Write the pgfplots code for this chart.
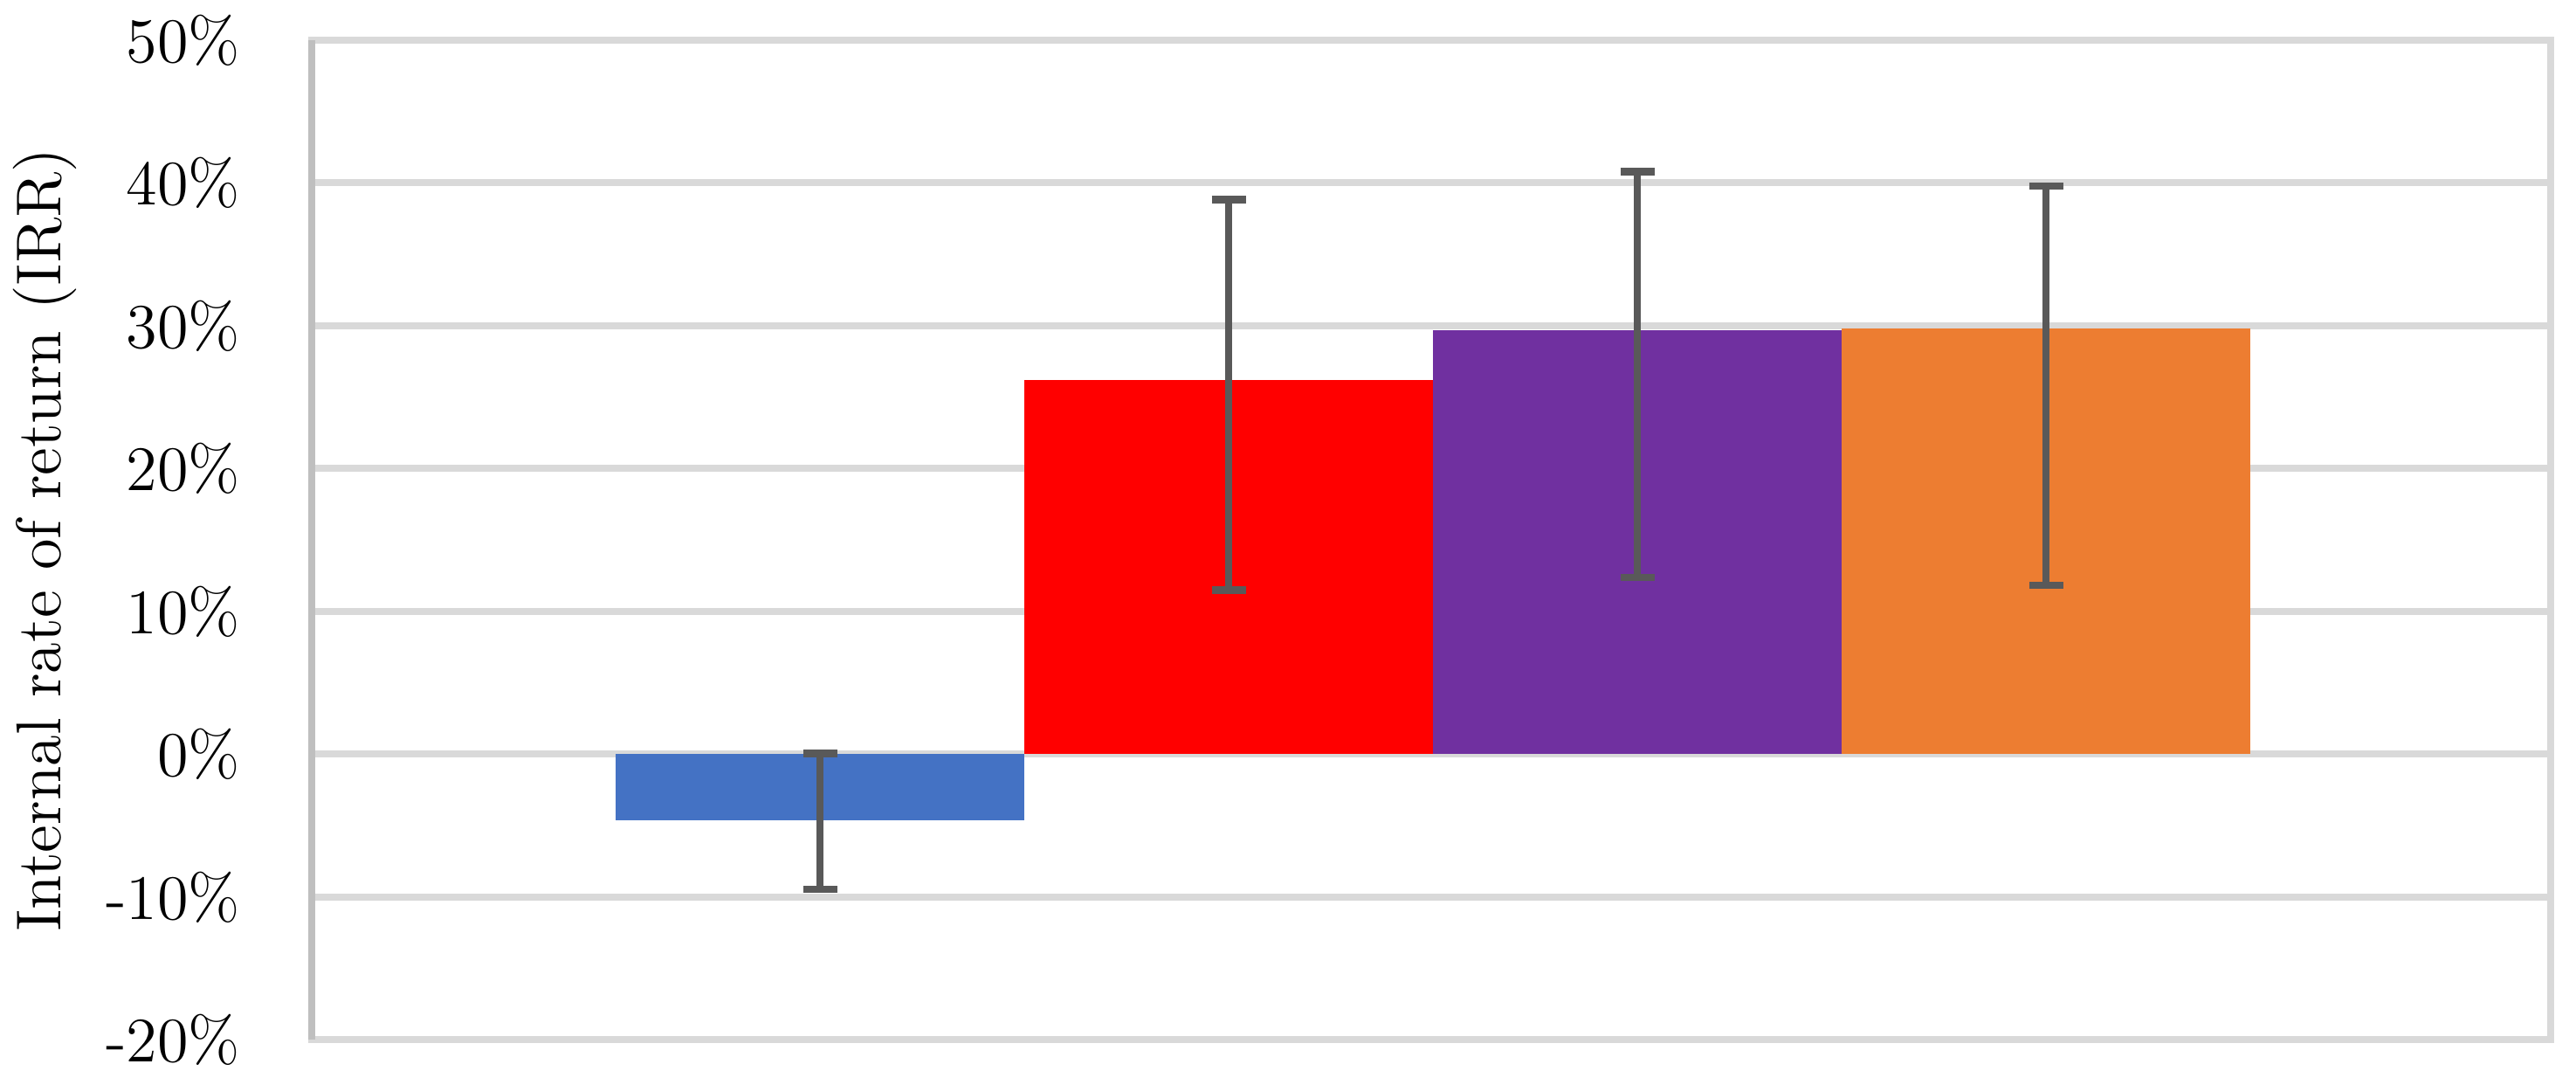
\documentclass[border=0pt]{standalone}
\usepackage{pgfplots}
\pgfplotsset{compat=1.18}
\definecolor{cblue}{HTML}{4472C4}
\definecolor{cred}{HTML}{FF0000}
\definecolor{cpurple}{HTML}{7030A0}
\definecolor{corange}{HTML}{ED7D31}
\definecolor{gridgray}{HTML}{D9D9D9}
\definecolor{axisgray}{HTML}{BFBFBF}
\definecolor{errgray}{HTML}{595959}
\begin{document}
\begin{tikzpicture}
\begin{axis}[
  at={(0,0)}, anchor=south west,
  scale only axis, width=512.8bp, height=228.9bp,
  xmin=-0.2436, xmax=5.235, ymin=-20, ymax=50,
  ybar,
  ytick={-20,-10,0,10,20,30,40,50},
  xtick=\empty,
  ymajorgrids,
  grid style={draw=gridgray, line width=1.6bp},
  axis line style={draw=gridgray, line width=1.6bp},
  tick style={draw=none},
  /pgf/number format/assume math mode=true,
  yticklabel={\pgfmathprintnumber{\tick}\%},
  yticklabel style={anchor=east, inner sep=0pt, xshift=-16.2bp, font=\fontsize{14.5bp}{17bp}\selectfont},
  ylabel={Internal rate of return (IRR)},
  every axis y label/.style={at={(axis description cs:0,0.5)}, rotate=90, anchor=center, yshift=61.2bp, inner sep=0pt, font=\fontsize{14.5bp}{17bp}\selectfont},
  error bars/y dir=both,
  error bars/y explicit,
  error bars/error bar style={draw=errgray, line width=1.73bp},
  error bars/error mark options={draw=errgray, line width=1.73bp, mark size=3.9bp, rotate=90},
]
\addplot[fill=cblue, draw=none, bar width=1, bar shift=0pt] coordinates {(1,-4.62) += (0,4.69) -= (0,4.83)};
\addplot[fill=cred, draw=none, bar width=1, bar shift=0pt] coordinates {(2,26.2) += (0,12.65) -= (0,14.69)};
\addplot[fill=cpurple, draw=none, bar width=1, bar shift=0pt] coordinates {(3,29.71) += (0,11.10) -= (0,17.32)};
\addplot[fill=corange, draw=none, bar width=1, bar shift=0pt] coordinates {(4,29.84) += (0,9.95) -= (0,18.01)};
\end{axis}
\draw[axisgray, line width=1.6bp] (current axis.south west) -- (current axis.north west);
\path ([xshift=-71.4bp,yshift=-7.1bp]current axis.south west) rectangle ([xshift=5.8bp,yshift=9.2bp]current axis.north east);
\end{tikzpicture}
\end{document}
